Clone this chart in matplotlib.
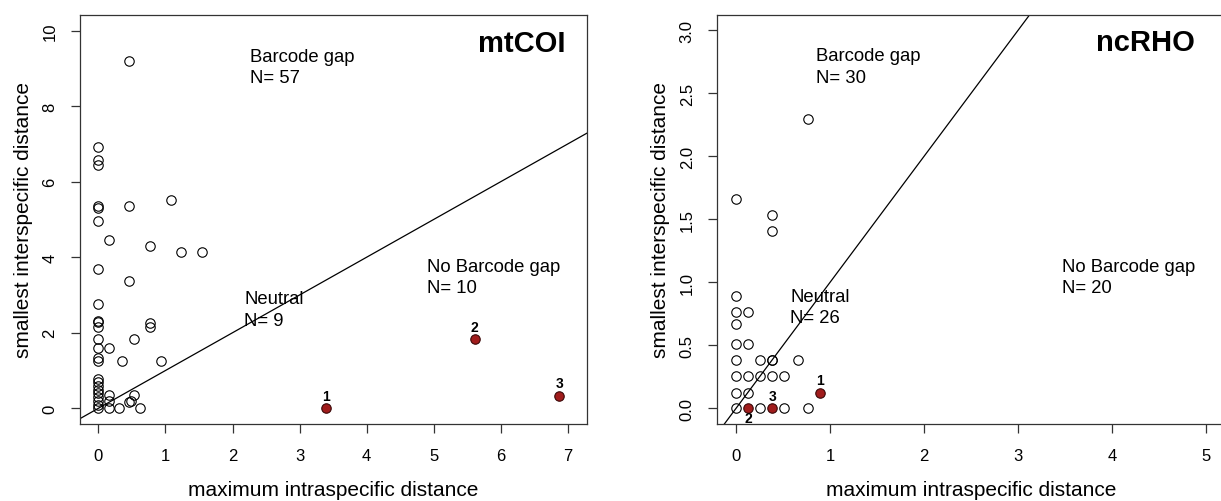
import numpy as np
import matplotlib
matplotlib.use("Agg")
import matplotlib.pyplot as plt

plt.rcParams['font.family'] = ['Liberation Sans', 'DejaVu Sans']

# mtCOI: open circles (max intra, min inter)
coi_x = [0.45, 0, 0, 0, 0, 0, 0, 0.45, 1.085, 0.16, 0.765, 1.235, 1.55,
         0, 0.45, 0, 0, 0, 0, 0.765, 0.765, 0, 0.525, 0, 0.16,
         0, 0, 0.35, 0.935, 0, 0, 0, 0, 0, 0, 0, 0, 0,
         0.16, 0.16, 0.16, 0.31, 0.45, 0.49, 0.525, 0.615]
coi_y = [9.2, 6.91, 6.58, 6.45, 5.36, 5.30, 4.96, 5.35, 5.52, 4.46, 4.29, 4.13, 4.13,
         3.68, 3.38, 2.76, 2.32, 2.28, 2.16, 2.26, 2.16, 1.83, 1.83, 1.60, 1.60,
         1.32, 1.24, 1.24, 1.24, 0.78, 0.69, 0.60, 0.49, 0.40, 0.29, 0.18, 0.09, 0,
         0.36, 0.20, 0, 0, 0.16, 0.185, 0.36, 0]
# mtCOI: highlighted species
coi_red_x = [3.40, 5.61, 6.87]
coi_red_y = [0, 1.83, 0.33]
coi_red_lab = ["1", "2", "3"]

# ncRHO: open circles
rho_x = [0, 0.256, 0.513, 0.769,
         0, 0.128,
         0, 0.128, 0.256, 0.385, 0.513,
         0, 0.256, 0.385, 0.385, 0.66,
         0, 0.128,
         0,
         0, 0.128,
         0,
         0, 0.385, 0.385, 0.769]
rho_y = [0, 0, 0, 0,
         0.122, 0.122,
         0.253, 0.253, 0.253, 0.253, 0.253,
         0.384, 0.384, 0.384, 0.384, 0.384,
         0.507, 0.507,
         0.668,
         0.766, 0.766,
         0.892,
         1.66, 1.535, 1.41, 2.30]
rho_red_x = [0.897, 0.128, 0.385]
rho_red_y = [0.122, 0, 0]
rho_red_lab = ["1", "2", "3"]
rho_red_below = [False, True, False]

coi_xticks = [0, 1, 2, 3, 4, 5, 6, 7]
coi_yticks = [0, 2, 4, 6, 8, 10]
rho_xticks = [0, 1, 2, 3, 4, 5]
rho_yticks = [0.0, 0.5, 1.0, 1.5, 2.0, 2.5, 3.0]
rho_ylabels = ["0.0", "0.5", "1.0", "1.5", "2.0", "2.5", "3.0"]

W, H = 1221, 502
fig = plt.figure(figsize=(W / 100, H / 100), dpi=100)

ax1 = fig.add_axes([80 / W, 77 / H, 507 / W, 409.3 / H])
ax2 = fig.add_axes([717.3 / W, 77 / H, 507.5 / W, 409.3 / H])

axcol = '#333333'
red = '#a01c1c'
txt = 13.3


def style(ax, xt, yt, ylab):
    for s in ax.spines.values():
        s.set_color(axcol)
        s.set_linewidth(0.9)
    ax.set_xticks(xt)
    ax.set_xticklabels([str(v) for v in xt])
    ax.set_yticks(yt)
    ax.set_yticklabels(ylab, rotation=90, va='center')
    ax.tick_params(axis='both', direction='out', length=6.7, width=0.9,
                   color=axcol, labelsize=12, labelcolor='black')
    ax.tick_params(axis='x', pad=10.5)
    ax.tick_params(axis='y', pad=9.5)
    ax.set_xlabel('maximum intraspecific distance', fontsize=15)
    ax.set_ylabel('smallest interspecific distance', fontsize=15)
    ax.xaxis.set_label_coords(0.5, -0.16)
    ax.xaxis.label.set_va('center')
    ax.yaxis.set_label_coords(-0.112, 0.5)
    ax.yaxis.label.set_va('center')


# left panel
ax1.axline((0, 0), slope=1, color='black', lw=0.9, zorder=1)
ax1.plot(coi_x, coi_y, 'o', ms=6.8, mfc='none', mec='black', mew=0.8, zorder=3)
ax1.plot(coi_red_x, coi_red_y, 'o', ms=6.8, mfc=red, mec='#3a0808', mew=0.8, zorder=3)
for x, y, t in zip(coi_red_x, coi_red_y, coi_red_lab):
    ax1.annotate(t, (x, y), xytext=(0, 6), textcoords='offset points',
                 ha='center', va='baseline', fontsize=10, fontweight='bold')
ax1.set_xlim(-0.274, 7.285)
ax1.set_ylim(-0.416, 10.42)
style(ax1, coi_xticks, coi_yticks, [str(v) for v in coi_yticks])

ax1.text(2.264, 9.203, 'Barcode gap', fontsize=txt, va='baseline')
ax1.text(2.264, 8.647, 'N= 57', fontsize=txt, va='baseline')
ax1.text(2.174, 2.788, 'Neutral', fontsize=txt, va='baseline')
ax1.text(2.174, 2.205, 'N= 9', fontsize=txt, va='baseline')
ax1.text(4.90, 3.643, 'No Barcode gap', fontsize=txt, va='baseline')
ax1.text(4.90, 3.087, 'N= 10', fontsize=txt, va='baseline')
ax1.text(6.97, 9.452, 'mtCOI', fontsize=21, fontweight='bold', ha='right', va='baseline')

# right panel
ax2.axline((0, 0), slope=1, color='black', lw=0.9, zorder=1)
ax2.plot(rho_x, rho_y, 'o', ms=6.8, mfc='none', mec='black', mew=0.8, zorder=3)
ax2.plot(rho_red_x, rho_red_y, 'o', ms=6.8, mfc=red, mec='#3a0808', mew=0.8, zorder=3)
for x, y, t, below in zip(rho_red_x, rho_red_y, rho_red_lab, rho_red_below):
    off = -9.6 if below else 6.2
    ax2.annotate(t, (x, y), xytext=(0, off), textcoords='offset points',
                 ha='center', va='baseline', fontsize=10, fontweight='bold')
ax2.set_xlim(-0.2, 5.2)
ax2.set_ylim(-0.125, 3.124)
style(ax2, rho_xticks, rho_yticks, rho_ylabels)

ax2.text(0.848, 2.761, 'Barcode gap', fontsize=txt, va='baseline')
ax2.text(0.848, 2.592, 'N= 30', fontsize=txt, va='baseline')
ax2.text(0.574, 0.855, 'Neutral', fontsize=txt, va='baseline')
ax2.text(0.574, 0.683, 'N= 26', fontsize=txt, va='baseline')
ax2.text(3.468, 1.093, 'No Barcode gap', fontsize=txt, va='baseline')
ax2.text(3.468, 0.924, 'N= 20', fontsize=txt, va='baseline')
ax2.text(4.883, 2.840, 'ncRHO', fontsize=21, fontweight='bold', ha='right', va='baseline')

fig.savefig('out.png', dpi=100)
